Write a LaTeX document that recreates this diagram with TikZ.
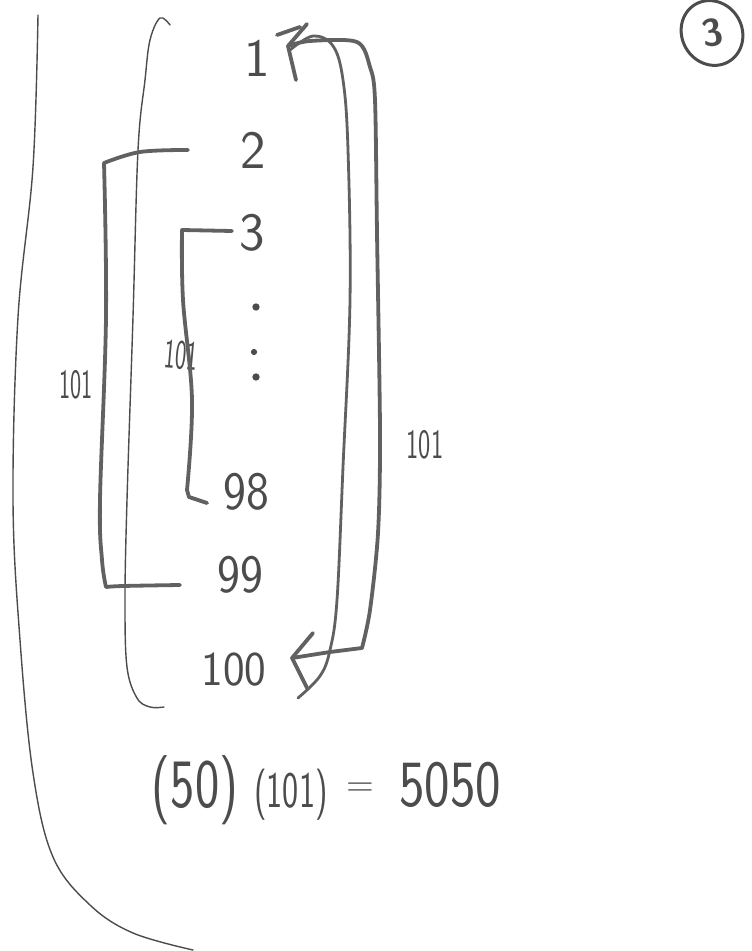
\documentclass[tikz,border=0pt]{standalone}
\usetikzlibrary{shapes.geometric}
\begin{document}
\begin{tikzpicture}[x=0.5pt,y=-0.5pt,
  ink/.style={draw=black!62, line width=1.9pt, line cap=round, line join=round},
  fine/.style={draw=black!70, line width=0.7pt, line cap=round, line join=round},
  num/.style={text=black!70, font=\sffamily\fontsize{27}{27}\selectfont, inner sep=0pt},
  lab/.style={text=black!70, font=\sffamily\fontsize{19}{19}\selectfont, inner sep=0pt},
  big/.style={text=black!70, font=\sffamily\fontsize{33}{33}\selectfont, inner sep=0pt}]
\useasboundingbox (0,0) rectangle (751,951);
\fill[white] (0,0) rectangle (751,951);

% numbers
\node[num] (n1) at (257,58) {1};
\node[num] (n2) at (253,150) {2};
\node[num] (n3) at (252,233) {3};
\node[fill=black!70, circle, inner sep=1.3pt] (d1) at (256,307) {};
\node[fill=black!70, circle, inner sep=1.1pt] (d2) at (254,352) {};
\node[fill=black!70, circle, inner sep=1.3pt] (d3) at (256,377) {};
\node[num] (n98) at (246,492) {\scalebox{0.9}[1]{98}};
\node[num] (n99) at (240,575) {\scalebox{0.9}[1]{99}};
\node[num] (n100) at (234,670) {\scalebox{0.85}[0.9]{100}};

% labels 101
\node[lab] (l1) at (76,385) {\scalebox{0.62}[1.1]{101}};
\node[lab, rotate=-5] (l2) at (181,355) {\scalebox{0.62}[1.1]{101}};
\node[lab] (l3) at (425,445) {\scalebox{0.68}[1.1]{101}};

% formula
\node[big] (f1) at (195,790) {\scalebox{0.78}[1.05]{(50)}};
\node[lab] (f2) at (291,795) {\scalebox{0.9}[1.35]{(101)}};
\node[lab] (f3) at (360,790) {=};
\node[big] (f4) at (450,785) {\scalebox{0.82}[1]{5050}};

% circled 3
\node[draw=black!70, line width=1.5pt, ellipse, minimum width=25pt, minimum height=33pt, rotate=30, text=black!70,
  font=\sffamily\bfseries\fontsize{19}{19}\selectfont] (c3) at (712,33) {\rotatebox{-20}{3}};

% far-left curve
\draw[fine] plot[smooth, tension=0.6] coordinates {(38,15) (33,167) (18,317) (13,500) (20,640) (33,773) (53,857) (90,905) (133,933) (193,950)};

% second long curve
\draw[fine] plot[smooth, tension=0.6] coordinates {(170,25) (160,18) (150,40) (145,80) (138,150) (133,317) (127,500) (125,600) (127,667) (137,698) (150,707) (164,707)};

% outer bracket 2 -- 99
\coordinate (b2) at (188,150);
\coordinate (b99) at (180,585);
\draw[ink] plot[smooth, tension=0.6] coordinates {(b2) (140,152) (104,163)}
  -- plot[smooth, tension=0.6] coordinates {(104,163) (106,317) (100,500) (102,560) (106,587)}
  -- plot[smooth, tension=0.6] coordinates {(106,587) (123,586) (b99)};

% inner bracket 3 -- 98
\coordinate (b3) at (232,231);
\coordinate (b98) at (207,503);
\draw[ink] (b3) -- (182,230)
  -- plot[smooth, tension=0.6] coordinates {(182,230) (183,300) (192,400) (187,490)}
  -- (189,497) -- (b98);

% arrow loop 1 <-> 100 : outer stroke
\coordinate (a1) at (288,46);
\coordinate (a100) at (292,658);
\draw[ink] plot[smooth, tension=0.5] coordinates {(a1) (310,41) (357,42) (370,67) (375,100) (377,233) (380,433) (378,533) (370,610) (362,648)}
  -- (330,652) -- (a100);
% inner stroke
\draw[ink, line width=1.4pt] plot[smooth, tension=0.6] coordinates {(290,50) (313,36) (333,46) (343,80) (348,150) (350,300) (343,467) (337,600) (330,650) (320,676) (298,698)};
% arrowheads
\draw[ink] (307,24) -- (a1) -- (296,80);
\draw[ink] (277,35) -- (300,27);
\draw[ink] (313,633) -- (a100) -- (307,688);
\end{tikzpicture}
\end{document}
